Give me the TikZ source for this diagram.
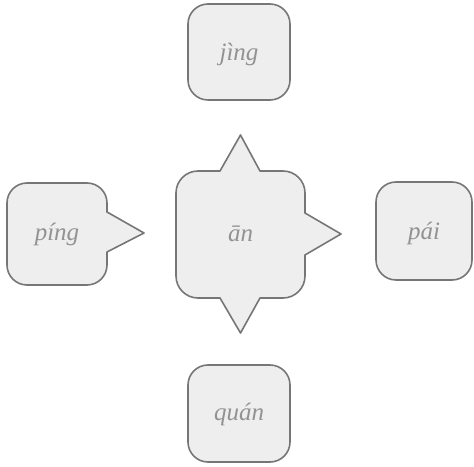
\documentclass[tikz,border=0pt]{standalone}
\usepackage{fontspec}
\setmainfont{Liberation Serif}
\definecolor{shapefill}{HTML}{EEEEEE}
\definecolor{shapeline}{HTML}{767676}
\definecolor{labeltext}{HTML}{929292}
\tikzset{
  shapebox/.style={fill=shapefill, draw=shapeline, line width=1.6pt, line join=round},
  wordlabel/.style={text=labeltext, font=\fontsize{25}{29}\selectfont\itshape, inner sep=0pt}
}
\begin{document}
\begin{tikzpicture}[x=1pt,y=1pt]
\useasboundingbox (0,0) rectangle (474,466);
% central shape with three spikes
\path[shapebox] (198,295) -- (220,295) -- (240.5,331) -- (260,295) -- (283,295)
  arc[start angle=90,end angle=0,radius=22] -- (305,253) -- (341,232) -- (305,211) -- (305,190)
  arc[start angle=0,end angle=-90,radius=22] -- (260,168) -- (240.5,133) -- (220,168) -- (198,168)
  arc[start angle=270,end angle=180,radius=22] -- (176,273)
  arc[start angle=180,end angle=90,radius=22] -- cycle;
% left shape with right spike
\path[shapebox] (27,283) -- (87,283)
  arc[start angle=90,end angle=0,radius=20] -- (107,254) -- (144,233) -- (107,214) -- (107,201)
  arc[start angle=0,end angle=-90,radius=20] -- (27,181)
  arc[start angle=270,end angle=180,radius=20] -- (7,263)
  arc[start angle=180,end angle=90,radius=20] -- cycle;
% plain rounded boxes
\path[shapebox, rounded corners=20pt] (188,366) rectangle (290,462);
\path[shapebox, rounded corners=20pt] (376,186) rectangle (472,284);
\path[shapebox, rounded corners=20pt] (188,4) rectangle (290,101);
% labels
\node[wordlabel] (an) at (240.5,232) {ān};
\node[wordlabel] (ping) at (57,232) {píng};
\node[wordlabel] (jing) at (239,412) {jìng};
\node[wordlabel] (pai) at (424,233) {pái};
\node[wordlabel] (quan) at (239,52) {quán};
\end{tikzpicture}
\end{document}
